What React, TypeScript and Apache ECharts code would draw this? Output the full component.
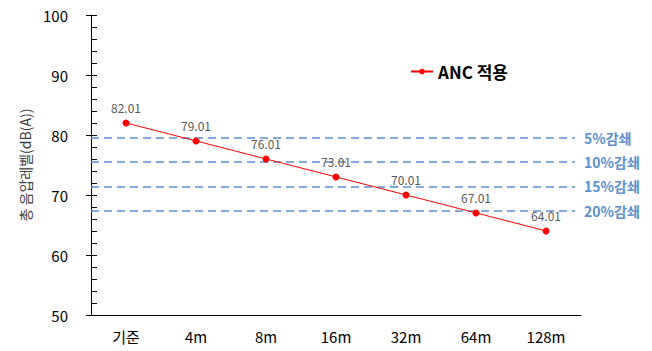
import React, { useEffect, useRef } from "react";
import * as echarts from "echarts";

const categories = ["기준", "4m", "8m", "16m", "32m", "64m", "128m"];
const ancValues = [82.01, 79.01, 76.01, 73.01, 70.01, 67.01, 64.01];
const reductionLabels = ["5%감쇄", "10%감쇄", "15%감쇄", "20%감쇄"];
const reductionValues = [79.55, 75.5, 71.45, 67.35];
const seriesName = "ANC 적용";
const yAxisName = "총 음압레벨(dB(A))";

const FONT = "'Noto Sans CJK KR', 'Noto Sans', sans-serif";

export default function App() {
  const ref = useRef<HTMLDivElement>(null);
  useEffect(() => {
    if (!ref.current) return;
    const chart = echarts.init(ref.current, null, { renderer: "svg" });
    const blue = "#5b8fd0";
    chart.setOption({
      animation: false,
      backgroundColor: "#fff",
      textStyle: { fontFamily: FONT },
      legend: {
        data: [seriesName],
        left: 405,
        top: 58,
        itemWidth: 22,
        itemHeight: 7,
        textStyle: { fontSize: 17, fontWeight: "bold", color: "#000", fontFamily: FONT },
      },
      grid: [
        { left: 91, top: 15, right: 71, bottom: 36 },
        { left: 91, top: 15, right: 77, bottom: 36 },
      ],
      xAxis: [
        {
          type: "category",
          gridIndex: 0,
          data: categories,
          boundaryGap: true,
          axisLine: { lineStyle: { color: "#000", width: 1 } },
          axisTick: { show: false },
          axisLabel: { fontSize: 15, color: "#000", margin: 14, fontFamily: FONT },
        },
        { type: "value", gridIndex: 1, min: 0, max: 1, show: false },
      ],
      yAxis: [
        {
          type: "value",
          gridIndex: 0,
          min: 50,
          max: 100,
          interval: 10,
          name: yAxisName,
          nameLocation: "middle",
          nameGap: 55,
          nameTextStyle: { fontSize: 14, color: "#404040", fontFamily: FONT },
          axisLine: { show: true, lineStyle: { color: "#000", width: 1 } },
          axisTick: { show: true, inside: true, length: 6, lineStyle: { color: "#000" } },
          minorTick: { show: true, splitNumber: 5, length: 6, lineStyle: { color: "#000" } },
          splitLine: { show: false },
          axisLabel: { fontSize: 15, color: "#000", margin: 23, fontFamily: FONT },
        },
        {
          type: "value",
          gridIndex: 0,
          min: 50,
          max: 100,
          interval: 10,
          position: "left",
          axisLine: { show: false },
          axisTick: { show: true, inside: false, length: 5, lineStyle: { color: "#000" } },
          splitLine: { show: false },
          axisLabel: { show: false },
        },
        { type: "value", gridIndex: 1, min: 50, max: 100, show: false },
      ],
      series: [
        {
          name: "reduction",
          type: "line",
          xAxisIndex: 1,
          yAxisIndex: 2,
          data: [],
          silent: true,
          markLine: {
            silent: true,
            symbol: "none",
            lineStyle: { type: [8, 5], color: blue, width: 1.5 },
            label: {
              show: true,
              position: "end",
              distance: 9,
              formatter: "{b}",
              color: blue,
              fontSize: 14,
              fontWeight: "bold",
              fontFamily: FONT,
            },
            data: reductionValues.map((v, i) => ({ yAxis: v, name: reductionLabels[i] })),
          },
        },
        {
          name: seriesName,
          type: "line",
          xAxisIndex: 0,
          yAxisIndex: 0,
          data: ancValues,
          symbol: "circle",
          symbolSize: 7,
          itemStyle: { color: "#ff0000" },
          lineStyle: { color: "#ff0000", width: 1 },
          label: {
            show: true,
            position: "top",
            distance: 6,
            fontSize: 12,
            color: "#595959",
            fontFamily: FONT,
            formatter: (p: any) => p.value.toFixed(2),
          },
          z: 5,
        },
      ],
    });
    return () => chart.dispose();
  }, []);
  return <div ref={ref} style={{ width: 652, height: 351, position: "absolute", left: 0, top: 0 }} />;
}
